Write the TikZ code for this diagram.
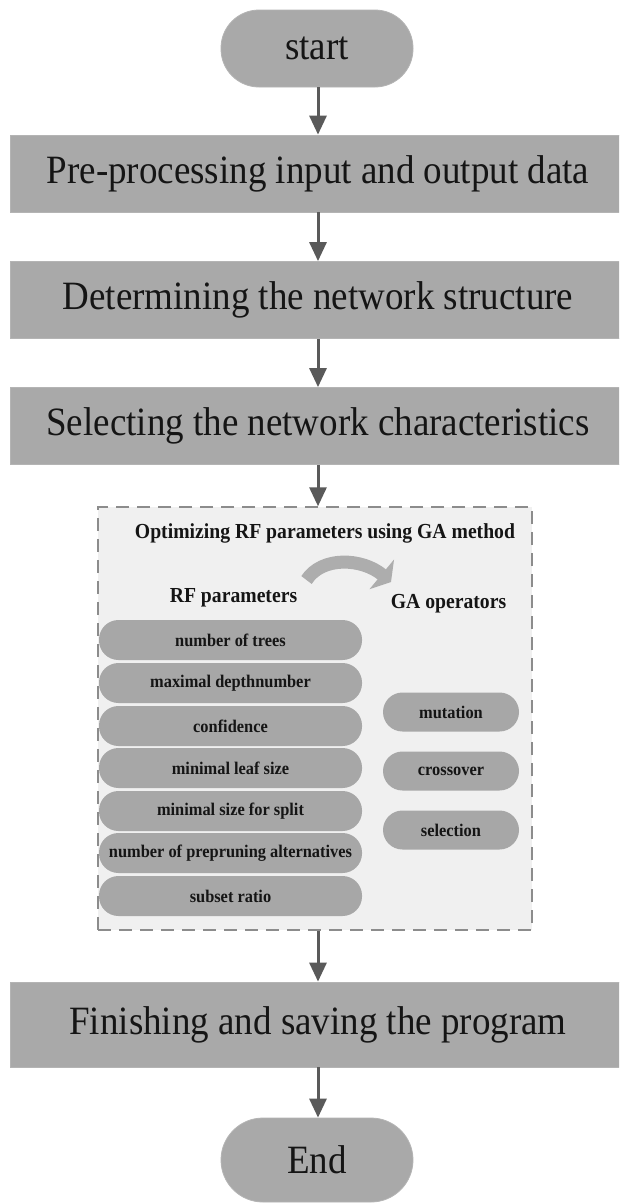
\documentclass[tikz,border=0pt]{standalone}
\usepackage{fontspec}
\setmainfont{Liberation Serif}[FakeStretch=0.92]
\usetikzlibrary{arrows.meta}
\definecolor{boxgray}{HTML}{A9A9A9}
\definecolor{boxedge}{HTML}{B4B4B4}
\definecolor{pillgray}{HTML}{A7A7A7}
\definecolor{arrowgray}{HTML}{5A5A5A}
\definecolor{txt}{HTML}{151515}
\definecolor{dashfill}{HTML}{F0F0F0}
\definecolor{dashline}{HTML}{8C8C8C}
\definecolor{curvegray}{HTML}{ADADAD}
\tikzset{
  mainbox/.style={rectangle, fill=boxgray, draw=boxedge, line width=0.8pt,
    minimum width=616pt, minimum height=77pt, inner sep=0pt, text=txt,
    font=\fontsize{40.2}{46}\selectfont},
  terminal/.style={rectangle, rounded corners=38pt, fill=boxgray, draw=boxedge,
    line width=0.8pt, minimum width=192pt, minimum height=77pt, inner sep=0pt,
    text=txt, font=\fontsize{40.2}{46}\selectfont},
  pill/.style={rectangle, rounded corners=19.5pt, fill=pillgray,
    minimum width=263pt, minimum height=40pt, inner sep=0pt, text=txt,
    font=\bfseries\fontsize{17.8}{21}\selectfont},
  gapill/.style={pill, minimum width=136pt, minimum height=39pt},
  heading/.style={inner sep=0pt, text=txt, font=\bfseries\fontsize{21.4}{25}\selectfont},
  flow/.style={-{Triangle[width=17pt,length=19pt]}, line width=3pt, draw=arrowgray},
  groupbox/.style={rectangle, fill=dashfill, draw=dashline, line width=1.5pt,
    dash pattern=on 13pt off 8pt, minimum width=434pt, minimum height=423pt, inner sep=0pt},
  curvearrow/.style={-{Triangle[width=38pt,length=12pt]}, line width=13pt, draw=curvegray}
}
\begin{document}
\begin{tikzpicture}[x=1pt,y=-1pt]
\useasboundingbox (0,0) rectangle (619,1203);
\clip (0,0) rectangle (619,1203);
\fill[white] (0,0) rectangle (619,1203);

\node[terminal] (start) at (317,48.5) {start};
\node[mainbox] (b1) at (318,173.5) {Pre-processing input and output data};
\node[mainbox] (b2) at (318,300) {Determining the network structure};
\node[mainbox] (b3) at (318,426) {Selecting the network characteristics};

\node[groupbox] (grp) at (315,718.5) {};
\node[heading] (title) at (325,533) {Optimizing RF parameters using GA method};
\node[heading] (rfh) at (233.5,598) {RF parameters};
\node[heading] (gah) at (448.5,604) {GA operators};

\coordinate (cA) at (306.5,580);
\coordinate (cB) at (391,582);
\draw[curvearrow] (cA) .. controls (322,556) and (362,558) .. (cB);

\node[pill] (p1) at (230.5,640) {number of trees};
\node[pill] (p2) at (230.5,683) {maximal depthnumber};
\node[pill] (p3) at (230.5,726) {confidence};
\node[pill] (p4) at (230.5,768) {minimal leaf size};
\node[pill] (p5) at (230.5,811) {minimal size for split};
\node[pill] (p6) at (230.5,853) {number of prepruning alternatives};
\node[pill] (p7) at (230.5,896) {subset ratio};

\node[gapill] (g1) at (451,712) {mutation};
\node[gapill] (g2) at (451,771) {crossover};
\node[gapill] (g3) at (451,830) {selection};

\node[mainbox, minimum height=85pt] (b4) at (318,1024.5) {Finishing and saving the program};
\node[terminal, minimum height=84pt, rounded corners=42pt] (endn) at (317,1160) {End};

\draw[flow] (start.south -| b1.north) -- (b1.north);
\draw[flow] (b1) -- (b2);
\draw[flow] (b2) -- (b3);
\draw[flow] (b3.south) -- (b3.south |- grp.north);
\draw[flow] (b4.north |- grp.south) -- (b4.north);
\draw[flow] (b4.south) -- (b4.south |- endn.north);
\end{tikzpicture}
\end{document}
